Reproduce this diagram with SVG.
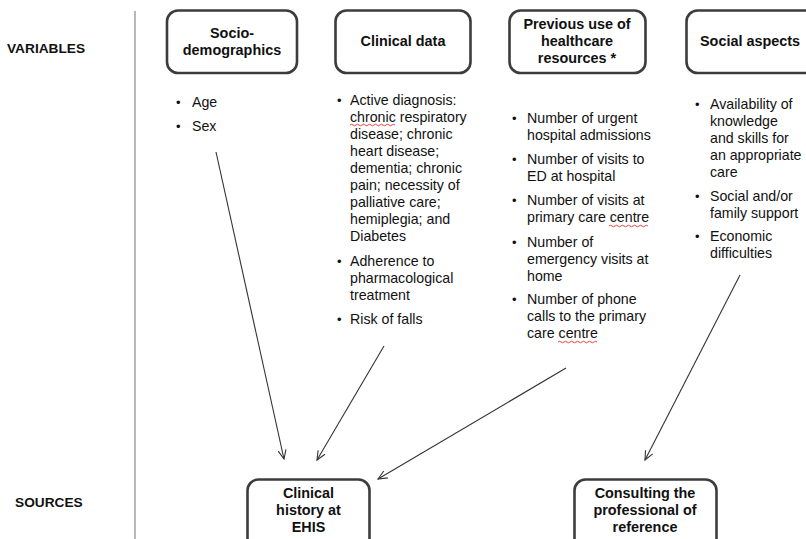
<svg xmlns="http://www.w3.org/2000/svg" width="806" height="539" viewBox="0 0 806 539">
<style>
.box{fill:#fff;stroke:#3c3c3c;stroke-width:2.6}
.t{font-family:"Liberation Sans",Arial,sans-serif;font-size:14.4px;font-weight:bold;fill:#111;text-anchor:middle}
.lbl{font-family:"Liberation Sans",Arial,sans-serif;font-size:13.7px;font-weight:bold;fill:#111}
.b{font-family:"Liberation Sans",Arial,sans-serif;font-size:14.2px;fill:#111}
.dot{font-family:"Liberation Sans",Arial,sans-serif;font-size:13px;fill:#111}
.conn{stroke:#333;stroke-width:1.1;fill:none}
.sq{stroke:#e03030;stroke-width:0.9;fill:none}
</style>
<defs>
<marker id="arr" markerUnits="userSpaceOnUse" markerWidth="12" markerHeight="12" viewBox="-1 -6 12 12" refX="9" refY="0" orient="auto">
<path d="M0,-4 L9,0 L0,4" fill="none" stroke="#333" stroke-width="1.1"/>
</marker>
</defs>
<rect width="806" height="539" fill="#fff"/>
<line x1="135" y1="11" x2="135" y2="539" stroke="#a8a8a8" stroke-width="1.6"/>
<text class="lbl" x="7" y="53">VARIABLES</text>
<text class="lbl" x="15" y="507">SOURCES</text>

<g id="socio">
<rect class="box" x="167" y="10.5" width="130" height="62.5" rx="11"/>
<text class="t" x="232" y="38">Socio-</text>
<text class="t" x="232" y="55">demographics</text>
<text class="b" x="192" y="106.5">Age</text>
<text class="b" x="192" y="131">Sex</text>
<text class="dot" x="176" y="106.5">•</text>
<text class="dot" x="176" y="131">•</text>
</g>

<g id="clinical">
<rect class="box" x="335.5" y="10.5" width="135" height="62.5" rx="11"/>
<text class="t" x="403" y="46">Clinical data</text>
<text class="dot" x="337" y="105">•</text>
<text class="b" x="350" y="105">Active diagnosis:</text>
<text class="b" x="350" y="122">chronic respiratory</text>
<text class="b" x="350" y="139">disease; chronic</text>
<text class="b" x="350" y="156">heart disease;</text>
<text class="b" x="350" y="173">dementia; chronic</text>
<text class="b" x="350" y="190">pain; necessity of</text>
<text class="b" x="350" y="207">palliative care;</text>
<text class="b" x="350" y="224">hemiplegia; and</text>
<text class="b" x="350" y="241">Diabetes</text>
<text class="dot" x="337" y="265.5">•</text>
<text class="b" x="350" y="265.5">Adherence to</text>
<text class="b" x="350" y="282.5">pharmacological</text>
<text class="b" x="350" y="299.5">treatment</text>
<text class="dot" x="337" y="324">•</text>
<text class="b" x="350" y="324">Risk of falls</text>
<path class="sq" d="M350,125 q1.5,-1.5 3,0 t3,0 t3,0 t3,0 t3,0 t3,0 t3,0 t3,0 t3,0 t3,0 t3,0 t3,0 t3,0 t3,0 t3,0"/>
</g>

<g id="previous">
<rect class="box" x="509.5" y="10.5" width="136" height="62.5" rx="11"/>
<text class="t" x="577" y="29">Previous use of</text>
<text class="t" x="577" y="46">healthcare</text>
<text class="t" x="577" y="63">resources *</text>
<text class="dot" x="512" y="122.5">•</text>
<text class="b" x="527" y="122.5">Number of urgent</text>
<text class="b" x="527" y="139.5">hospital admissions</text>
<text class="dot" x="512" y="164">•</text>
<text class="b" x="527" y="164">Number of visits to</text>
<text class="b" x="527" y="181">ED at hospital</text>
<text class="dot" x="512" y="205">•</text>
<text class="b" x="527" y="205">Number of visits at</text>
<text class="b" x="527" y="222">primary care centre</text>
<text class="dot" x="512" y="246.5">•</text>
<text class="b" x="527" y="246.5">Number of</text>
<text class="b" x="527" y="263.5">emergency visits at</text>
<text class="b" x="527" y="280.5">home</text>
<text class="dot" x="512" y="304">•</text>
<text class="b" x="527" y="304">Number of phone</text>
<text class="b" x="527" y="321">calls to the primary</text>
<text class="b" x="527" y="338">care centre</text>
<path class="sq" d="M609,226 q1.5,-1.5 3,0 t3,0 t3,0 t3,0 t3,0 t3,0 t3,0 t3,0 t3,0 t3,0 t3,0 t3,0 t3,0"/>
<path class="sq" d="M558,342 q1.5,-1.5 3,0 t3,0 t3,0 t3,0 t3,0 t3,0 t3,0 t3,0 t3,0 t3,0 t3,0 t3,0 t3,0"/>
</g>

<g id="social">
<rect class="box" x="686.5" y="10.5" width="150" height="62.5" rx="11"/>
<text class="t" x="750" y="46">Social aspects</text>
<text class="dot" x="695" y="109">•</text>
<text class="b" x="710" y="109">Availability of</text>
<text class="b" x="710" y="126">knowledge</text>
<text class="b" x="710" y="143">and skills for</text>
<text class="b" x="710" y="160">an appropriate</text>
<text class="b" x="710" y="177">care</text>
<text class="dot" x="695" y="200.5">•</text>
<text class="b" x="710" y="200.5">Social and/or</text>
<text class="b" x="710" y="217.5">family support</text>
<text class="dot" x="695" y="241">•</text>
<text class="b" x="710" y="241">Economic</text>
<text class="b" x="710" y="258">difficulties</text>
</g>

<g id="ehis">
<rect class="box" x="247.5" y="479.5" width="122" height="80" rx="11"/>
<text class="t" x="308.5" y="498">Clinical</text>
<text class="t" x="308.5" y="515">history at</text>
<text class="t" x="308.5" y="532">EHIS</text>
</g>

<g id="consulting">
<rect class="box" x="574.5" y="479.5" width="142" height="80" rx="11"/>
<text class="t" x="645" y="498">Consulting the</text>
<text class="t" x="645" y="515">professional of</text>
<text class="t" x="645" y="532">reference</text>
</g>

<g id="connectors">
<line class="conn" x1="216" y1="152" x2="284" y2="459" marker-end="url(#arr)"/>
<line class="conn" x1="384" y1="346" x2="317" y2="460" marker-end="url(#arr)"/>
<line class="conn" x1="566" y1="368" x2="378" y2="479" marker-end="url(#arr)"/>
<line class="conn" x1="740" y1="275" x2="645" y2="460" marker-end="url(#arr)"/>
</g>
</svg>
